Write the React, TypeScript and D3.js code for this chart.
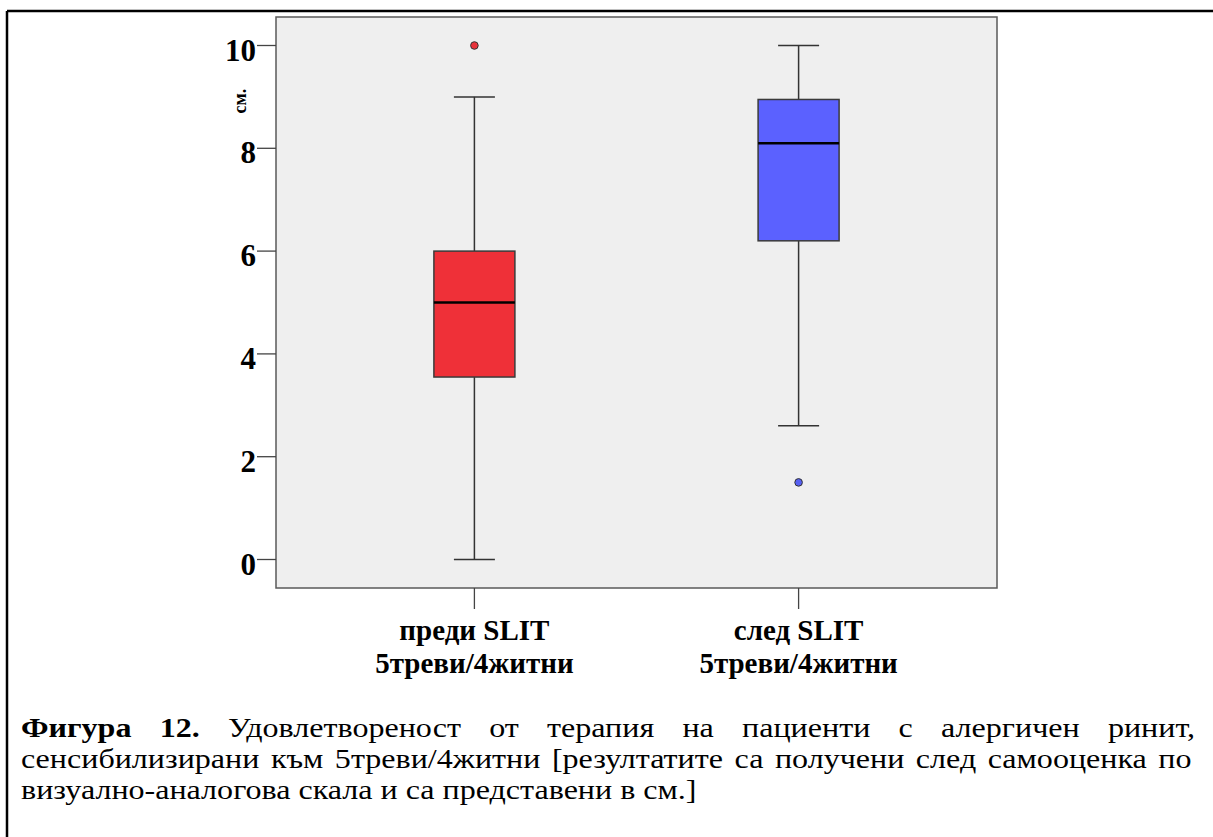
import React, { useEffect, useRef } from "react";
import * as d3 from "d3";

// Two groups of patients: before and after SLIT therapy
const groups = ["pre", "post"];
const groupLabels = [
  ["преди SLIT", "5треви/4житни"],
  ["след SLIT", "5треви/4житни"],
];
const whiskerLow = [0, 2.6];
const quartile1 = [3.55, 6.2];
const medians = [5, 8.1];
const quartile3 = [6, 8.95];
const whiskerHigh = [9, 10];
const outliers = [[10], [1.5]];
const boxFills = ["#ef3038", "#5b61ff"];
const outlierFills = ["#e8323a", "#5660f2"];
const yTicks = [0, 2, 4, 6, 8, 10];
const yAxisTitle = "см.";

const captionHead = "Фигура 12.";
const captionLine1 = " Удовлетвореност от терапия на пациенти с алергичен ринит,";
const captionLine2 = "сенсибилизирани към 5треви/4житни  [резултатите са получени след самооценка по";
const captionLine3 = "визуално-аналогова скала и са представени в см.]";

const W = 1213;
const H = 837;
const plot = { left: 276, top: 17, right: 997, bottom: 588 };
const SERIF = '"Liberation Serif", FreeSerif, serif';
const serifStyle = { fontFamily: SERIF };

const capLeft = 21;
const capRight = 1195;
const capLastEnd = 697;
const capSize = 27;
const capBase = [737, 768, 799];

export default function App() {
  const capRef = useRef<SVGGElement>(null);

  const y = d3.scaleLinear().domain([0, 10]).range([559.5, 45.5]);
  const x = d3.scalePoint<string>().domain(groups).range([plot.left, plot.right]).padding(0.612);
  const boxW = 81;
  const capW = 41;

  // Caption: widen the glyphs to the page measure, then justify the first two lines
  useEffect(() => {
    if (!capRef.current) return;
    const g = d3.select(capRef.current);
    const last = g.select<SVGTextElement>("text.last").node();
    if (!last) return;
    const sx = (capLastEnd - capLeft) / last.getComputedTextLength();
    g.attr("transform", `translate(${capLeft},0) scale(${sx},1)`);
    const target = (capRight - capLeft) / sx;
    g.selectAll<SVGTextElement, unknown>("text.justify").each(function () {
      const t = this as SVGTextElement;
      t.style.wordSpacing = "0px";
      const natural = t.getComputedTextLength();
      const spaces = (t.textContent || "").split(" ").length - 1;
      t.style.wordSpacing = `${(target - natural) / spaces}px`;
    });
  }, []);

  return (
    <svg width={W} height={H} style={{ position: "absolute", left: 0, top: 0, fontFamily: SERIF }}>
      {/* page frame */}
      <line x1={7} y1={11} x2={W} y2={11} stroke="#000" strokeWidth={2.5} />
      <line x1={7} y1={11} x2={7} y2={H} stroke="#000" strokeWidth={2.5} />

      {/* plot area */}
      <rect
        x={plot.left}
        y={plot.top}
        width={plot.right - plot.left}
        height={plot.bottom - plot.top}
        fill="#efefef"
        stroke="#5a5a5a"
        strokeWidth={1.5}
      />

      {/* y axis */}
      {yTicks.map((t) => (
        <g key={t}>
          <line x1={plot.left - 19} x2={plot.left} y1={y(t)} y2={y(t)} stroke="#444" strokeWidth={1.3} />
          <text x={plot.left - 20} y={y(t) + 15} textAnchor="end" style={serifStyle} fontSize={31} fontWeight="bold">
            {t}
          </text>
        </g>
      ))}
      <text
        transform={`translate(246, 101) rotate(-90)`}
        textAnchor="middle"
        style={serifStyle}
        fontSize={18}
        fontWeight="bold"
      >
        {yAxisTitle}
      </text>

      {/* x axis */}
      {groups.map((gName, i) => {
        const cx = x(gName)!;
        return (
          <g key={gName}>
            <line x1={cx} x2={cx} y1={plot.bottom} y2={plot.bottom + 21} stroke="#444" strokeWidth={1.3} />
            {groupLabels[i].map((ln, j) => (
              <text
                key={j}
                x={cx}
                y={640 + j * 33}
                textAnchor="middle"
                style={serifStyle}
                fontSize={29}
                fontWeight="bold"
              >
                {ln}
              </text>
            ))}
          </g>
        );
      })}

      {/* boxes */}
      {groups.map((gName, i) => {
        const cx = x(gName)!;
        return (
          <g key={gName}>
            <line x1={cx} x2={cx} y1={y(quartile3[i])} y2={y(whiskerHigh[i])} stroke="#333" strokeWidth={1.5} />
            <line x1={cx} x2={cx} y1={y(quartile1[i])} y2={y(whiskerLow[i])} stroke="#333" strokeWidth={1.5} />
            <line
              x1={cx - capW / 2}
              x2={cx + capW / 2}
              y1={y(whiskerHigh[i])}
              y2={y(whiskerHigh[i])}
              stroke="#333"
              strokeWidth={1.5}
            />
            <line
              x1={cx - capW / 2}
              x2={cx + capW / 2}
              y1={y(whiskerLow[i])}
              y2={y(whiskerLow[i])}
              stroke="#333"
              strokeWidth={1.5}
            />
            <rect
              x={cx - boxW / 2}
              y={y(quartile3[i])}
              width={boxW}
              height={y(quartile1[i]) - y(quartile3[i])}
              fill={boxFills[i]}
              stroke="#3a3a3a"
              strokeWidth={1.5}
            />
            <line
              x1={cx - boxW / 2}
              x2={cx + boxW / 2}
              y1={y(medians[i])}
              y2={y(medians[i])}
              stroke="#000"
              strokeWidth={2.5}
            />
            {outliers[i].map((v, k) => (
              <circle key={k} cx={cx} cy={y(v)} r={3.8} fill={outlierFills[i]} stroke="#333" strokeWidth={1} />
            ))}
          </g>
        );
      })}

      {/* caption */}
      <g ref={capRef} transform={`translate(${capLeft},0)`} style={{ whiteSpace: "pre" }}>
        <text className="justify" x={0} y={capBase[0]} style={serifStyle} fontSize={capSize}>
          <tspan fontWeight="bold">{captionHead}</tspan>
          {captionLine1}
        </text>
        <text className="justify" x={0} y={capBase[1]} style={serifStyle} fontSize={capSize}>
          {captionLine2}
        </text>
        <text className="last" x={0} y={capBase[2]} style={serifStyle} fontSize={capSize}>
          {captionLine3}
        </text>
      </g>
    </svg>
  );
}
